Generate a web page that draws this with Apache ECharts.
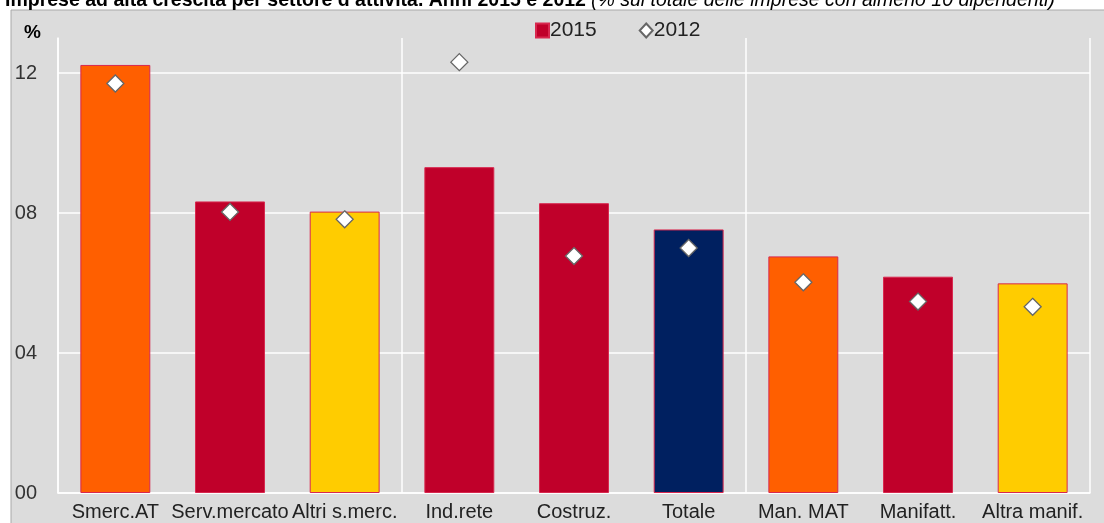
<!DOCTYPE html>
<html><head><meta charset="utf-8">
<script src="https://cdn.jsdelivr.net/npm/echarts@6/dist/echarts.min.js"></script>
<style>html,body{margin:0;padding:0;background:#fff}#c{width:1104px;height:523px}</style>
</head><body><div id="c"></div>
<script>
const categories = ['Smerc.AT', 'Serv.mercato', 'Altri s.merc.', 'Ind.rete', 'Costruz.', 'Totale', 'Man. MAT', 'Manifatt.', 'Altra manif.'];
const values2015 = [12.23, 8.33, 8.04, 9.31, 8.28, 7.53, 6.76, 6.18, 5.99];
const values2012 = [11.70, 8.03, 7.82, 12.31, 6.77, 7.00, 6.02, 5.47, 5.32];
const yTicks = [0, 4, 8, 12];
const barColors = ['#FF5F00', '#C0002A', '#FFCC00', '#C0002A', '#C0002A', '#002060', '#FF5F00', '#C0002A', '#FFCC00'];

const FONT = "'Liberation Sans Narrow', 'Arial Narrow', 'Liberation Sans', Arial, sans-serif";
const chart = echarts.init(document.getElementById('c'));
chart.setOption({
  animation: false,
  backgroundColor: '#ffffff',
  graphic: [{
    type: 'rect', z: -100, silent: true,
    shape: { x: 11, y: 10, width: 1100, height: 520 },
    style: { fill: '#dcdcdc', stroke: '#a8a8a8', lineWidth: 1 }
  }],
  title: {
    left: 0, top: -14, padding: 5,
    text: '{b|Imprese ad alta crescita per settore d\u2019attività. Anni 2015 e 2012} {i|(% sul totale delle imprese con almeno 10 dipendenti)}',
    textStyle: {
      fontWeight: 'normal',
      rich: {
        b: { fontFamily: FONT, fontWeight: 'bold', fontSize: 19.5, color: '#000' },
        i: { fontFamily: FONT, fontStyle: 'italic', fontWeight: 'normal', fontSize: 19.5, color: '#000' }
      }
    }
  },
  legend: {
    left: 530, top: 15,
    itemGap: 42, itemWidth: 13, itemHeight: 14,
    textStyle: { fontFamily: FONT, fontSize: 21, color: '#222', padding: [0, 0, 0, -4] },
    data: [
      { name: '2015', icon: 'rect' },
      { name: '2012', icon: 'diamond' }
    ]
  },
  grid: { left: 58, right: 14, top: 38, bottom: 30 },
  xAxis: [{
    type: 'category', data: categories,
    axisLine: { show: true, lineStyle: { color: '#ffffff', width: 1.5 } },
    axisTick: { show: false },
    splitLine: { show: false },
    axisLabel: { fontFamily: FONT, fontSize: 20, color: '#222', margin: 9, interval: 0 }
  }, {
    type: 'value', min: 0, max: 9, interval: 3, position: 'bottom',
    axisLine: { show: false }, axisTick: { show: false }, axisLabel: { show: false },
    splitLine: { show: true, lineStyle: { color: '#ffffff', width: 1.5 } }
  }],
  yAxis: {
    type: 'value', min: 0, max: 13, interval: 4,
    name: '%', nameLocation: 'end', nameGap: -4,
    nameTextStyle: { fontFamily: FONT, fontWeight: 'bold', fontSize: 19, color: '#000', align: 'right', padding: [0, 17, 0, 0] },
    axisLine: { show: true, lineStyle: { color: '#ffffff', width: 1.5 } },
    axisTick: { show: false },
    splitLine: { show: true, showMaxLine: false, lineStyle: { color: '#ffffff', width: 1.5 } },
    axisLabel: {
      fontFamily: FONT, fontSize: 20, color: '#333', margin: 21, showMaxLabel: false,
      formatter: v => yTicks.includes(v) ? String(v).padStart(2, '0') : ''
    }
  },
  series: [{
    name: '2015', type: 'bar', barWidth: '61%', z: 2,
    itemStyle: { color: '#C0002A', borderColor: '#d8284f', borderWidth: 1 },
    data: values2015.map((v, i) => ({ value: v, itemStyle: { color: barColors[i] } }))
  }, {
    name: '2012', type: 'scatter', symbol: 'diamond', symbolSize: 17, z: 5,
    itemStyle: { color: '#ffffff', borderColor: '#666666', borderWidth: 1.3, opacity: 1 },
    data: values2012
  }]
});
</script></body></html>
